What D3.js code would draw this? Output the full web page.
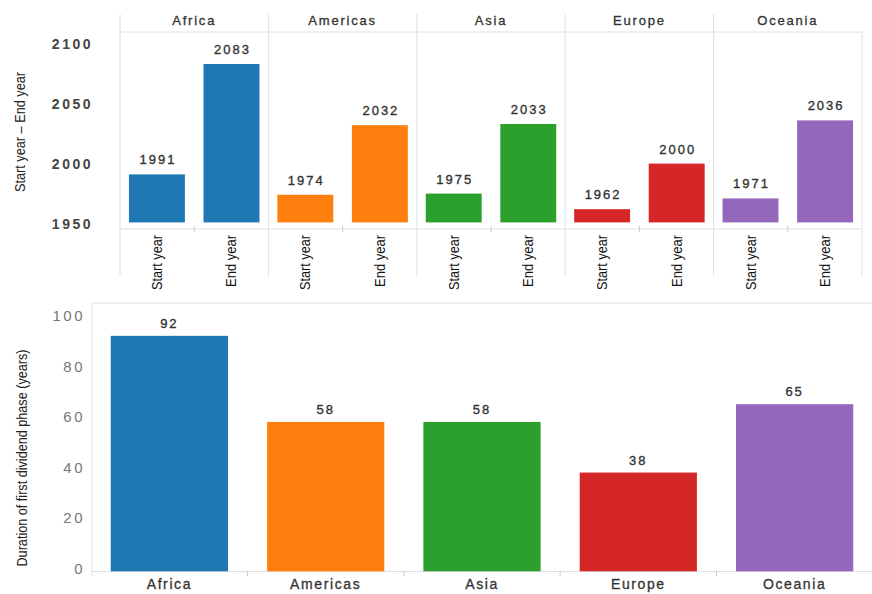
<!DOCTYPE html>
<html>
<head>
<meta charset="utf-8">
<script src="https://cdn.jsdelivr.net/npm/d3@7"></script>
<style>
    body { margin: 0; background: #fff; }
    text { font-family: "Liberation Sans", Arial, sans-serif; }
</style>
</head>
<body>
<svg id="chart"></svg>
<script>
// data
const regions = ["Africa", "Americas", "Asia", "Europe", "Oceania"];
const phases = ["Start year", "End year"];
const startYear = [1991, 1974, 1975, 1962, 1971];
const endYear = [2083, 2032, 2033, 2000, 2036];
const duration = [92, 58, 58, 38, 65];
const yearTicks = [1950, 2000, 2050, 2100];
const durationTicks = [0, 20, 40, 60, 80, 100];
const colors = ["#1f77b4", "#ff7f0e", "#2ca02c", "#d62728", "#9467bd"];

const width = 872, height = 594;
const svg = d3.select("#chart").attr("width", width).attr("height", height);
const gridColor = "#e0e0e0";

// ---------- top panel: start / end year, faceted by region ----------
const facet = d3.scaleBand().domain(regions).range([120, 862]);
const yYear = d3.scaleLinear().domain([1951, 2110]).range([222.4, 31.6]);
const topPanel = svg.append("g");

// header line, baseline and facet separators
topPanel.append("line").attr("x1", 120).attr("x2", 862).attr("y1", 32).attr("y2", 32)
    .attr("stroke", gridColor);
topPanel.append("line").attr("x1", 120).attr("x2", 862).attr("y1", 229).attr("y2", 229)
    .attr("stroke", gridColor);
topPanel.selectAll(".sep").data(regions).enter().append("line")
    .attr("x1", d => facet(d)).attr("x2", d => facet(d))
    .attr("y1", 14).attr("y2", 276)
    .attr("stroke", gridColor);
topPanel.append("line").attr("x1", 862).attr("x2", 862).attr("y1", 32).attr("y2", 276)
    .attr("stroke", gridColor);

// facet headers
topPanel.selectAll(".hdr").data(regions).enter().append("text")
    .attr("x", d => facet(d) + facet.bandwidth() / 2)
    .attr("y", 25)
    .attr("text-anchor", "middle")
    .style("font-size", "13px")
    .style("letter-spacing", "1.8px")
    .attr("fill", "#333").attr("stroke", "#333").attr("stroke-width", 0.3)
    .text(d => d);

// y axis
const yAxisTop = topPanel.append("g").attr("transform", "translate(96,0)")
    .call(d3.axisLeft(yYear).tickValues(yearTicks).tickSize(0).tickFormat(d3.format("d")));
yAxisTop.select(".domain").remove();
yAxisTop.selectAll("text").style("font-size", "14px").style("font-weight", "bold")
    .style("letter-spacing", "2.5px")
    .attr("fill", "#444").attr("x", -3);

topPanel.append("text")
    .attr("transform", "translate(25,132) rotate(-90)")
    .attr("text-anchor", "middle")
    .attr("textLength", 120).attr("lengthAdjust", "spacingAndGlyphs")
    .style("font-size", "15px")
    .attr("fill", "#222")
    .text("Start year \u2013 End year");

regions.forEach((r, i) => {
    const inner = d3.scaleBand().domain(phases)
        .range([facet(r), facet(r) + facet.bandwidth()]).paddingInner(0.25).paddingOuter(0.12);
    const vals = [startYear[i], endYear[i]];
    const g = topPanel.append("g");
    g.selectAll("rect").data(vals).enter().append("rect")
        .attr("x", (d, j) => inner(phases[j]))
        .attr("width", inner.bandwidth())
        .attr("y", d => yYear(d))
        .attr("height", d => yYear(1951) - yYear(d))
        .attr("fill", colors[i]);
    g.selectAll(".val").data(vals).enter().append("text")
        .attr("x", (d, j) => inner(phases[j]) + inner.bandwidth() / 2 + 1)
        .attr("y", d => yYear(d) - 10)
        .attr("text-anchor", "middle")
        .style("font-size", "13px")
        .style("letter-spacing", "2px")
        .attr("fill", "#333").attr("stroke", "#333").attr("stroke-width", 0.35)
        .text(d => d);
    // small tick between the two bars
    const mid = inner("End year") - inner.step() * inner.paddingInner() / 2;
    g.append("line").attr("x1", mid).attr("x2", mid).attr("y1", 226).attr("y2", 232)
        .attr("stroke", "#ccc");
    g.selectAll(".lab").data(phases).enter().append("text")
        .attr("transform", d => "translate(" + (inner(d) + inner.bandwidth() / 2 + 5) + ",235) rotate(-90)")
        .attr("text-anchor", "end")
        .attr("textLength", d => d === "Start year" ? 55 : 52)
        .attr("lengthAdjust", "spacingAndGlyphs")
        .style("font-size", "15px")
        .attr("fill", "#111")
        .text(d => d);
});

// ---------- bottom panel: duration of first dividend phase ----------
const x = d3.scaleBand().domain(regions).range([92, 872]).paddingInner(0.25).paddingOuter(0.12);
const yDur = d3.scaleLinear().domain([-1, 103]).range([571.3, 308]);
const bot = svg.append("g");

bot.append("line").attr("x1", 92).attr("x2", 872).attr("y1", 303).attr("y2", 303).attr("stroke", gridColor);
bot.append("line").attr("x1", 92).attr("x2", 92).attr("y1", 303).attr("y2", 576).attr("stroke", gridColor);
bot.append("line").attr("x1", 92).attr("x2", 872).attr("y1", 571.5).attr("y2", 571.5).attr("stroke", gridColor);
bot.selectAll(".tk").data(regions.slice(1)).enter().append("line")
    .attr("x1", d => x(d) - x.step() * x.paddingInner() / 2)
    .attr("x2", d => x(d) - x.step() * x.paddingInner() / 2)
    .attr("y1", 571).attr("y2", 576)
    .attr("stroke", "#ccc");

const yAxisBot = bot.append("g").attr("transform", "translate(86,0)")
    .call(d3.axisLeft(yDur).tickValues(durationTicks).tickSize(0));
yAxisBot.select(".domain").remove();
yAxisBot.selectAll("text").style("font-size", "15px").style("letter-spacing", "2.5px")
    .attr("fill", "#777").attr("x", -1);

bot.append("text")
    .attr("transform", "translate(27,458) rotate(-90)")
    .attr("text-anchor", "middle")
    .attr("textLength", 217).attr("lengthAdjust", "spacingAndGlyphs")
    .style("font-size", "15px")
    .attr("fill", "#222")
    .text("Duration of first dividend phase (years)");

bot.selectAll("rect").data(duration).enter().append("rect")
    .attr("x", (d, i) => x(regions[i]))
    .attr("width", x.bandwidth())
    .attr("y", d => yDur(d))
    .attr("height", d => yDur(-1) - yDur(d))
    .attr("fill", (d, i) => colors[i]);

bot.selectAll(".val").data(duration).enter().append("text")
    .attr("x", (d, i) => x(regions[i]) + x.bandwidth() / 2)
    .attr("y", d => yDur(d) - 8)
    .attr("text-anchor", "middle")
    .style("font-size", "13px")
    .style("letter-spacing", "2px")
    .attr("fill", "#333").attr("stroke", "#333").attr("stroke-width", 0.35)
    .text(d => d);

const xAxisBot = bot.append("g").attr("transform", "translate(0,571)")
    .call(d3.axisBottom(x).tickSize(0));
xAxisBot.select(".domain").remove();
xAxisBot.selectAll("text").style("font-size", "14px").style("letter-spacing", "1.6px")
    .attr("fill", "#333").attr("stroke", "#333").attr("stroke-width", 0.3)
    .attr("dy", "1.05em");
</script>
</body>
</html>
